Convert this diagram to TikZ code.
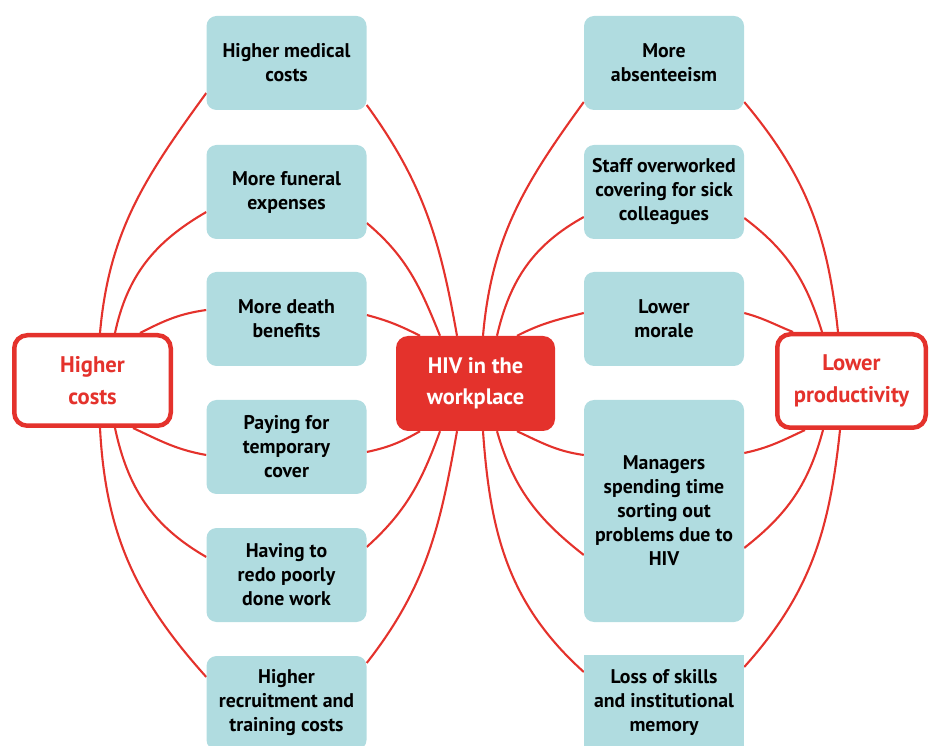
\documentclass[tikz,border=0pt]{standalone}
\usepackage{fontspec}
\setmainfont{PT Sans}
\usetikzlibrary{positioning,backgrounds,calc}
\definecolor{hivred}{RGB}{228,50,44}
\definecolor{boxblue}{RGB}{176,220,224}
\tikzset{
  issue/.style={rectangle, rounded corners=10pt, fill=boxblue, minimum width=160pt,
                minimum height=94pt, inner sep=0pt, align=center,
                font=\bfseries\fontsize{19.8}{24}\selectfont},
  effect/.style={rectangle, rounded corners=13pt, draw=hivred, line width=4.5pt, fill=white,
                 minimum width=156.5pt, minimum height=90.5pt, inner sep=0pt, align=center,
                 text=hivred, font=\bfseries\fontsize{22.6}{32}\selectfont},
  hub/.style={rectangle, rounded corners=12pt, fill=hivred, minimum width=159pt,
              minimum height=95pt, inner sep=0pt, align=center, text=white,
              font=\bfseries\fontsize{22.4}{31}\selectfont},
  link/.style={draw=hivred, line width=2.1pt}
}

\begin{document}
\begin{tikzpicture}[x=1pt,y=1pt]
\useasboundingbox (0,0) rectangle (929,745);
% main boxes
\node[effect] (costs) at (92.5,364.5) {Higher\\costs};
\node[hub] (hiv) at (475.5,361.5) {HIV in the\\workplace};
\node[effect, minimum width=148.5pt, minimum height=93.5pt] (productivity) at (851.5,364) {Lower\\productivity};
% costs side
\node[issue] (medical) at (286.5,682) {Higher medical\\costs};
\node[issue] (funeral) at (286.5,553) {More funeral\\expenses};
\node[issue] (death) at (286.5,426) {More death\\benefits};
\node[issue] (cover) at (286.5,298) {Paying for\\temporary\\cover};
\node[issue] (redo) at (286.5,170) {Having to\\redo poorly\\done work};
\node[issue] (recruit) at (286.5,42) {Higher\\recruitment and\\training costs};
% productivity side
\node[issue] (absent) at (664,682) {More\\absenteeism};
\node[issue] (overwork) at (664,553) {Staff overworked\\covering for sick\\colleagues};
\node[issue] (morale) at (664,426) {Lower\\morale};
\node[issue, minimum height=222pt] (managers) at (664,234) {Managers\\spending time\\sorting out\\problems due to\\HIV};
\node[issue, sharp corners] (skills) at (664,43) {Loss of skills\\and institutional\\memory};

\begin{pgfonlayer}{background}
% left arcs
\draw[link] ([xshift=7.5]costs.north) to[out=85,in=234] ([yshift=-30]medical.west);
\draw[link] ([yshift=-42]medical.east) to[out=-54,in=100] ([xshift=-18.5]hiv.north);
\draw[link] ([xshift=22.5]costs.north) to[out=78,in=210] ([yshift=-20]funeral.west);
\draw[link] ([yshift=-31]funeral.east) to[out=-40,in=112] ([xshift=-35.5]hiv.north);
\draw[link] ([xshift=47.5]costs.north) to[out=27,in=188] ([yshift=9]death.west);
\draw[link] ([yshift=4]death.east) to[out=-15,in=153] ([xshift=-55.5]hiv.north);
\draw[link] ([xshift=40.5]costs.south) to[out=-25,in=170] ([yshift=-8]cover.west);
\draw[link] ([yshift=-5]cover.east) to[out=12,in=210] ([xshift=-55.5]hiv.south);
\draw[link] ([xshift=22.5]costs.south) to[out=-78,in=150] ([yshift=18]redo.west);
\draw[link] ([yshift=28]redo.east) to[out=42,in=250] ([xshift=-35.5]hiv.south);
\draw[link] ([xshift=7.5]costs.south) to[out=-87,in=132] ([yshift=26]recruit.west);
\draw[link] ([yshift=40]recruit.east) to[out=52,in=260] ([xshift=-18.5]hiv.south);
% right arcs
\draw[link] ([xshift=7.5]hiv.north) to[out=85,in=234] ([yshift=-39]absent.west);
\draw[link] ([yshift=-39]absent.east) to[out=-50,in=96] ([xshift=-13.5]productivity.north);
\draw[link] ([xshift=21.5]hiv.north) to[out=77,in=209] ([yshift=-25]overwork.west);
\draw[link] ([yshift=-26]overwork.east) to[out=-37,in=107] ([xshift=-29.5]productivity.north);
\draw[link] ([xshift=41.5]hiv.north) to[out=27,in=194] ([yshift=6]morale.west);
\draw[link] ([yshift=6]morale.east) to[out=-15,in=158] ([xshift=-58.5]productivity.north);
\draw[link] ([xshift=41.5]hiv.south) to[out=-25,in=172] ([yshift=56]managers.west);
\draw[link] ([yshift=58]managers.east) to[out=12,in=205] ([xshift=-46.5]productivity.south);
\draw[link] ([xshift=21.5]hiv.south) to[out=-74,in=142] ([yshift=-44]managers.west);
\draw[link] ([yshift=-37]managers.east) to[out=38,in=255] ([xshift=-28.5]productivity.south);
\draw[link] ([xshift=7.5]hiv.south) to[out=-86,in=138] ([yshift=30]skills.west);
\draw[link] ([yshift=35]skills.east) to[out=48,in=264] ([xshift=-11.5]productivity.south);
\end{pgfonlayer}
\end{tikzpicture}
\end{document}
